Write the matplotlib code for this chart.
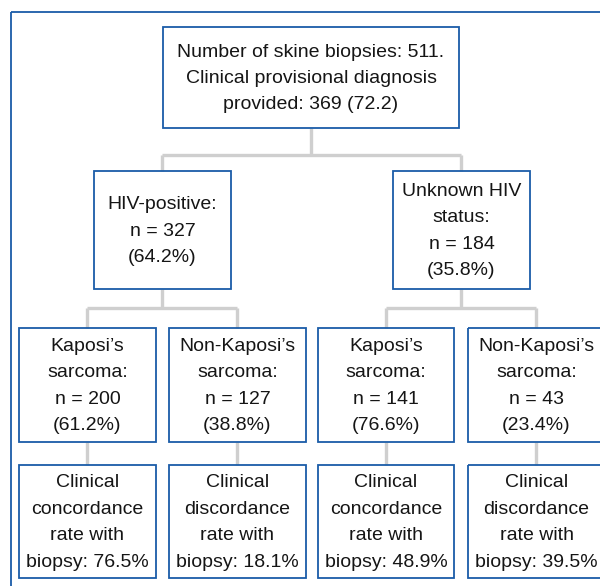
import matplotlib
matplotlib.use("Agg")
import matplotlib.pyplot as plt
from matplotlib.patches import Rectangle

# ---- chart content
top_label = "Number of skine biopsies: 511.\nClinical provisional diagnosis\nprovided: 369 (72.2)"
hiv_groups = ["HIV-positive:\nn = 327\n(64.2%)",
              "Unknown HIV\nstatus:\nn = 184\n(35.8%)"]
dx_groups = ["Kaposi's\nsarcoma:\nn = 200\n(61.2%)",
             "Non-Kaposi's\nsarcoma:\nn = 127\n(38.8%)",
             "Kaposi's\nsarcoma:\nn = 141\n(76.6%)",
             "Non-Kaposi's\nsarcoma:\nn = 43\n(23.4%)"]
rates = ["Clinical\nconcordance\nrate with\nbiopsy: 76.5%",
         "Clinical\ndiscordance\nrate with\nbiopsy: 18.1%",
         "Clinical\nconcordance\nrate with\nbiopsy: 48.9%",
         "Clinical\ndiscordance\nrate with\nbiopsy: 39.5%"]
dx_groups = [s.replace("'", "\u2019") for s in dx_groups]

# ---- layout (pixels)
W, H = 600, 586
blue = "#1a5ca8"
grey = "#cfcfcf"

plt.rcParams["font.family"] = ["Liberation Sans", "DejaVu Sans"]

fig = plt.figure(figsize=(W / 100, H / 100), dpi=100)
ax = fig.add_axes([0, 0, 1, 1])
ax.set_xlim(0, W)
ax.set_ylim(H, 0)
ax.axis("off")


def box(x0, y0, x1, y1, text, fs=14.0):
    ax.add_patch(Rectangle((x0, y0), x1 - x0, y1 - y0, fill=False,
                           ec=blue, lw=1.3, zorder=3, clip_on=False))
    ax.text((x0 + x1) / 2, (y0 + y1) / 2 + 1, text, ha="center", va="center",
            fontsize=fs, linespacing=1.72, color="#151515", zorder=4)


def line(xs, ys):
    ax.plot(xs, ys, color=grey, lw=2.4, solid_capstyle="butt", zorder=1)


# outer frame (clipped at right/bottom like the source)
ax.add_patch(Rectangle((11, 12), 620, 600, fill=False, ec=blue, lw=1.3,
                       zorder=2, clip_on=True))

# connectors
line([311, 311], [128, 155])
line([162, 461], [155, 155])
line([162, 162], [155, 171])
line([461, 461], [155, 171])
for cx, (a, b) in zip([162, 461], [(87, 237), (386, 536)]):
    line([cx, cx], [289, 308])
    line([a, b], [308, 308])
    line([a, a], [308, 328])
    line([b, b], [308, 328])
for cx in [87, 237, 386, 536]:
    line([cx, cx], [442, 465])

# boxes
box(163, 27, 459, 128, top_label)
for (x0, x1), t in zip([(94, 231), (393, 530)], hiv_groups):
    box(x0, 171, x1, 289, t)
for (x0, x1), t in zip([(19, 156), (169, 306), (318, 454), (468, 605)], dx_groups):
    box(x0, 328, x1, 442, t)
for (x0, x1), t in zip([(19, 156), (169, 306), (318, 454), (468, 605)], rates):
    box(x0, 465, x1, 578, t)

fig.savefig("out.png", dpi=100)
